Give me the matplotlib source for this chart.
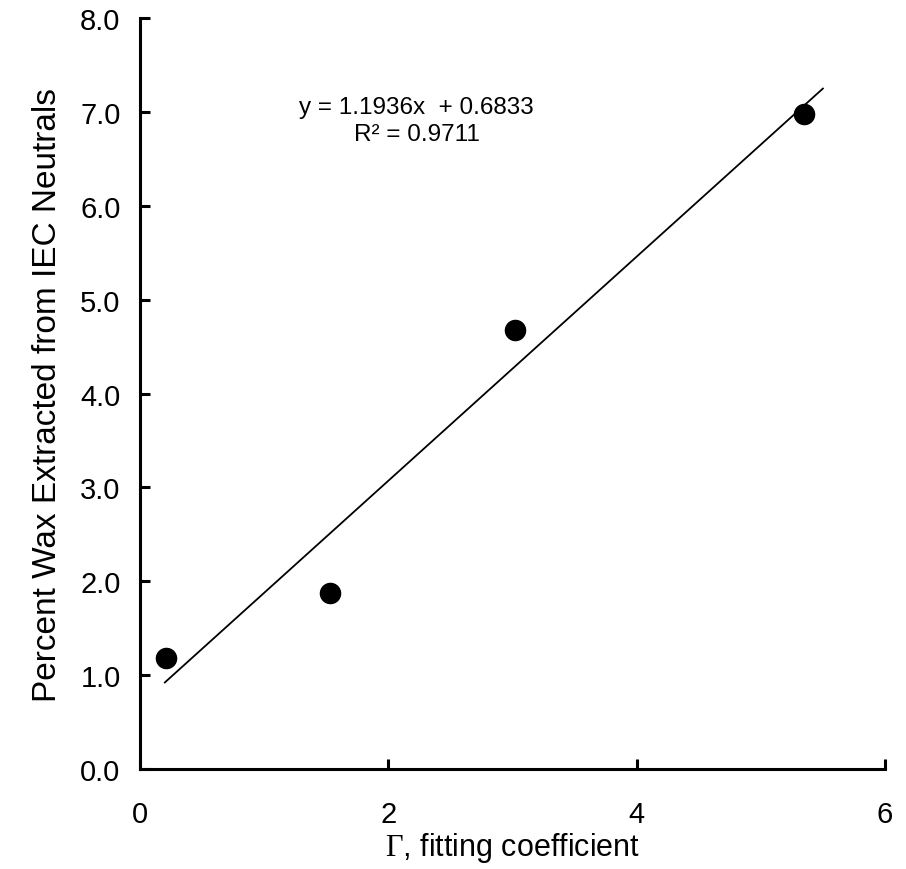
import numpy as np
import matplotlib
matplotlib.use('Agg')
import matplotlib.pyplot as plt

plt.rcParams['font.family'] = ['Liberation Sans', 'DejaVu Sans']
plt.rcParams['mathtext.fontset'] = 'custom'
plt.rcParams['mathtext.rm'] = 'Liberation Serif'

# fitting coefficient vs wax extracted
gamma = [0.21, 1.53, 3.02, 5.35]
wax = [1.18, 1.88, 4.68, 6.98]

slope = 1.1936
intercept = 0.6833
r2 = 0.9711
fit_range = [0.2, 5.5]

fig = plt.figure(figsize=(9.06, 8.7), dpi=100)
ax = fig.add_axes([0.1545, 0.1149, 0.8223, 0.8633])

xf = np.array(fit_range)
ax.plot(xf, slope * xf + intercept, color='black', lw=1.3)
ax.plot(gamma, wax, 'o', color='black', ms=14.5, zorder=3)

ax.text(2.23, 6.91, 'y = %.4fx  + %.4f\nR² = %.4f' % (slope, intercept, r2),
        ha='center', va='center', fontsize=17.5, linespacing=1.3)

ax.set_xlim(0, 6)
ax.set_ylim(0, 8)
ax.set_xticks([0, 2, 4, 6])
ax.set_yticks(np.arange(0, 9, 1))
ax.set_yticklabels(['%.1f' % v for v in np.arange(0, 9, 1)])

for s in ['top', 'right']:
    ax.spines[s].set_visible(False)
for s in ['left', 'bottom']:
    ax.spines[s].set_linewidth(2.2)

ax.tick_params(direction='in', length=7, width=2.2, labelsize=21)
ax.tick_params(axis='y', pad=14)
ax.tick_params(axis='x', pad=22)

ax.set_xlabel(r'$\mathrm{\Gamma}$, fitting coefficient', fontsize=22, labelpad=2)
ax.set_ylabel('Percent Wax Extracted from IEC Neutrals', fontsize=24, labelpad=12)

plt.savefig('out.png', dpi=100)
